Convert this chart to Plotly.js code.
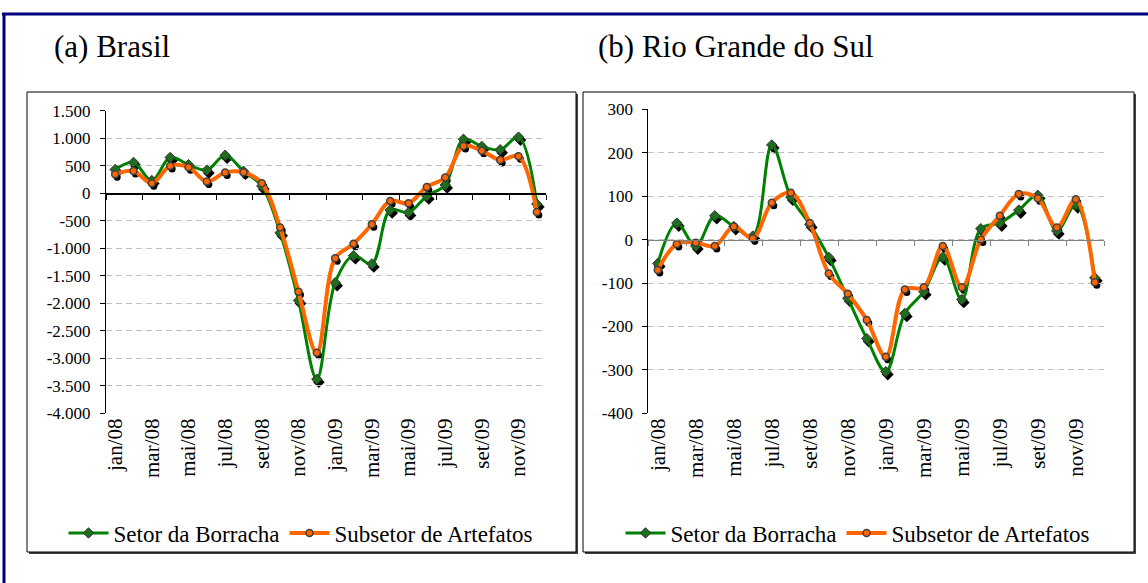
<!DOCTYPE html>
<html>
<head>
<meta charset="utf-8">
<script src="https://cdn.plot.ly/plotly-3.0.1.min.js"></script>
<style>
  html, body { margin: 0; padding: 0; background: #fff; }
  #grafico { width: 1148px; height: 583px; }
</style>
</head>
<body>
<div id="grafico"></div>
<script>
// Meses da série (jan/08 a dez/09)
const meses = ['jan/08','fev/08','mar/08','abr/08','mai/08','jun/08','jul/08','ago/08','set/08','out/08','nov/08','dez/08',
               'jan/09','fev/09','mar/09','abr/09','mai/09','jun/09','jul/09','ago/09','set/09','out/09','nov/09','dez/09'];
const rotulosX = ['jan/08','mar/08','mai/08','jul/08','set/08','nov/08','jan/09','mar/09','mai/09','jul/09','set/09','nov/09'];

// (a) Brasil
const brBorracha  = [430, 560, 230, 650, 520, 420, 690, 400, 130, -720, -1950, -3380,
                     -1625, -1135, -1285, -305, -350, -50, 150, 980, 850, 790, 1020, -195];
const brArtefatos = [345, 405, 182, 496, 473, 211, 375, 382, 182, -625, -1790, -2900,
                     -1180, -920, -565, -140, -182, 115, 284, 860, 770, 605, 672, -340];

// (b) Rio Grande do Sul
const rsBorracha  = [-55, 38, -15, 55, 30, 8, 218, 98, 35, -41, -135, -228,
                     -304, -170, -120, -40, -138, 25, 38, 68, 102, 20, 80, -88];
const rsArtefatos = [-70, -10, -7, -15, 30, 3, 85, 108, 38, -78, -125, -185,
                     -270, -115, -110, -15, -110, 0, 55, 105, 95, 28, 93, -98];

// Rótulos do eixo Y
const ticksBR = [-4000, -3500, -3000, -2500, -2000, -1500, -1000, -500, 0, 500, 1000, 1500];
const ticksBRTexto = ['-4.000','-3.500','-3.000','-2.500','-2.000','-1.500','-1.000','-500','0','500','1.000','1.500'];
const ticksRS = [-400, -300, -200, -100, 0, 100, 200, 300];
const ticksRSTexto = ['-400','-300','-200','-100','0','100','200','300'];

const nomeBorracha = 'Setor da Borracha';
const nomeArtefatos = 'Subsetor de Artefatos';

// Cores
const verde = '#008000';
const laranja = '#FF6600';
const fonte = '"Liberation Serif", "DejaVu Serif", serif';

// Conversão de pixels para coordenadas do papel
const W = 1148, H = 583;
const px = x => x / W;
const py = y => 1 - y / H;

const xIdx = meses.map((m, i) => i);
const fronteiras = [];
for (let i = -0.5; i <= meses.length - 0.5; i += 2) fronteiras.push(i);
const posRotulos = rotulosX.map(r => meses.indexOf(r));
const faixaX = [-0.5, meses.length - 0.5];

// Painéis em pixels
const painelBR = { x0: 106, x1: 546, y0: 413.3, y1: 110.7, faixa: [-4000, 1500] };
const painelRS = { x0: 648.3, x1: 1104.3, y0: 413.3, y1: 109.3, faixa: [-400, 300] };
const sombra = { dx: 2, dy: 3 };

function posZero(p) {
    const d0 = py(p.y0), d1 = py(p.y1);
    return d0 + (d1 - d0) * (0 - p.faixa[0]) / (p.faixa[1] - p.faixa[0]);
}

function eixosPainel(p, ticks, ticksTexto, corZero, ids) {
    const dom = [px(p.x0), px(p.x1)];
    const domY = [py(p.y0), py(p.y1)];
    const domS = [px(p.x0 + sombra.dx), px(p.x1 + sombra.dx)];
    const domYS = [py(p.y0 + sombra.dy), py(p.y1 + sombra.dy)];
    const ax = {};
    // subplot da sombra dos marcadores
    ax['xaxis' + ids.s] = { domain: domS, range: faixaX, visible: false, anchor: 'y' + ids.s, automargin: false };
    ax['yaxis' + ids.s] = { domain: domYS, range: p.faixa, visible: false, anchor: 'x' + ids.s, automargin: false };
    // eixo X no zero (só marcas)
    ax['xaxis' + ids.m] = {
        domain: dom, range: faixaX, anchor: 'free', position: posZero(p),
        tickmode: 'array', tickvals: fronteiras, showticklabels: false,
        ticks: 'outside', ticklen: 5, tickcolor: corZero, tickwidth: 1,
        showline: true, linecolor: corZero, linewidth: 1.5,
        showgrid: false, zeroline: false, automargin: false
    };
    ax['yaxis' + ids.m] = {
        domain: domY, range: p.faixa, anchor: 'x' + ids.m,
        tickmode: 'array', tickvals: ticks, ticktext: ticksTexto,
        ticks: 'outside', ticklen: 5, tickcolor: '#000', tickwidth: 1,
        showline: true, linecolor: '#000', linewidth: 1,
        showgrid: true, gridcolor: '#c0c0c0', griddash: '6px,4px', gridwidth: 1,
        zeroline: false, ticklabelstandoff: 6,
        tickfont: { family: fonte, size: 17, color: '#000' }, automargin: false
    };
    // subplot só com os rótulos do eixo X (embaixo)
    ax['xaxis' + ids.r] = {
        domain: dom, anchor: 'y' + ids.r, side: 'bottom', range: faixaX,
        tickmode: 'array', tickvals: posRotulos, ticktext: rotulosX, tickangle: -90,
        ticks: '', showline: false, showgrid: false, zeroline: false,
        tickfont: { family: fonte, size: 21, color: '#000' }, automargin: false
    };
    ax['yaxis' + ids.r] = {
        domain: domY, anchor: 'x' + ids.r, range: p.faixa,
        showticklabels: false, ticks: '', showline: false, showgrid: false, zeroline: false, automargin: false
    };
    return ax;
}

function tracos(yVerde, yLaranja, ids, legenda) {
    const base = { x: xIdx, customdata: meses, type: 'scatter' };
    return [
        // sombras
        Object.assign({}, base, { y: yVerde, xaxis: 'x' + ids.s, yaxis: 'y' + ids.s, mode: 'markers',
            marker: { symbol: 'diamond', size: 9, color: '#000' }, showlegend: false, hoverinfo: 'skip' }),
        Object.assign({}, base, { y: yLaranja, xaxis: 'x' + ids.s, yaxis: 'y' + ids.s, mode: 'markers',
            marker: { symbol: 'circle', size: 7, color: '#000' }, showlegend: false, hoverinfo: 'skip' }),
        // séries
        Object.assign({}, base, { y: yVerde, xaxis: 'x' + ids.m, yaxis: 'y' + ids.m, name: nomeBorracha,
            mode: 'lines+markers', legend: legenda,
            line: { color: verde, width: 3, shape: 'spline', smoothing: 1 },
            marker: { symbol: 'diamond', size: 8, color: '#1f6e1f', line: { color: '#333', width: 1 } } }),
        Object.assign({}, base, { y: yLaranja, xaxis: 'x' + ids.m, yaxis: 'y' + ids.m, name: nomeArtefatos,
            mode: 'lines+markers', legend: legenda,
            line: { color: laranja, width: 4, shape: 'spline', smoothing: 1 },
            marker: { symbol: 'circle', size: 7, color: laranja, line: { color: '#404040', width: 1.5 } } }),
        // traço vazio para ativar o subplot dos rótulos
        { x: [], y: [], type: 'scatter', xaxis: 'x' + ids.r, yaxis: 'y' + ids.r, showlegend: false, hoverinfo: 'skip' }
    ];
}

const idsBR = { s: '', m: '2', r: '3' };
const idsRS = { s: '4', m: '5', r: '6' };

const data = [].concat(
    tracos(brBorracha, brArtefatos, idsBR, 'legend'),
    tracos(rsBorracha, rsArtefatos, idsRS, 'legend2')
);

function caixa(x0, y0, x1, y1) {
    return [
        { type: 'rect', xref: 'paper', yref: 'paper', layer: 'below',
          x0: px(x0 + 2), x1: px(x1 + 2), y0: py(y1 + 2), y1: py(y0 + 2),
          fillcolor: '#404040', line: { width: 0 } },
        { type: 'rect', xref: 'paper', yref: 'paper', layer: 'below',
          x0: px(x0), x1: px(x1), y0: py(y1), y1: py(y0),
          fillcolor: '#fff', line: { color: '#000', width: 1 } }
    ];
}

const shapes = [].concat(
    caixa(27, 92, 576, 552),
    caixa(583, 92, 1134, 552),
    [
        { type: 'line', xref: 'paper', yref: 'paper', x0: px(2), x1: 1, y0: py(14), y1: py(14),
          line: { color: '#000080', width: 3 } },
        { type: 'line', xref: 'paper', yref: 'paper', x0: px(4), x1: px(4), y0: py(13), y1: 0,
          line: { color: '#000080', width: 3 } }
    ]
);

const legendaBase = {
    orientation: 'h', xanchor: 'center', yanchor: 'middle', y: py(533),
    font: { family: fonte, size: 23, color: '#000' }, bgcolor: 'rgba(0,0,0,0)',
    itemwidth: 40, tracegroupgap: 0
};

const layout = Object.assign({
    width: W, height: H,
    margin: { l: 0, r: 0, t: 0, b: 0 },
    paper_bgcolor: '#fff', plot_bgcolor: 'rgba(0,0,0,0)',
    font: { family: fonte, color: '#000' },
    showlegend: true,
    legend: Object.assign({}, legendaBase, { x: px(301) }),
    legend2: Object.assign({}, legendaBase, { x: px(858) }),
    shapes: shapes,
    annotations: [
        { xref: 'paper', yref: 'paper', x: px(52), y: py(47), xanchor: 'left', yanchor: 'middle',
          text: '(a) Brasil', showarrow: false, font: { family: fonte, size: 31, color: '#000' } },
        { xref: 'paper', yref: 'paper', x: px(596), y: py(47), xanchor: 'left', yanchor: 'middle',
          text: '(b) Rio Grande do Sul', showarrow: false, font: { family: fonte, size: 31, color: '#000' } }
    ]
},
    eixosPainel(painelBR, ticksBR, ticksBRTexto, '#000', idsBR),
    eixosPainel(painelRS, ticksRS, ticksRSTexto, '#808080', idsRS)
);

Plotly.newPlot('grafico', data, layout, { displayModeBar: false, staticPlot: true });
</script>
</body>
</html>
